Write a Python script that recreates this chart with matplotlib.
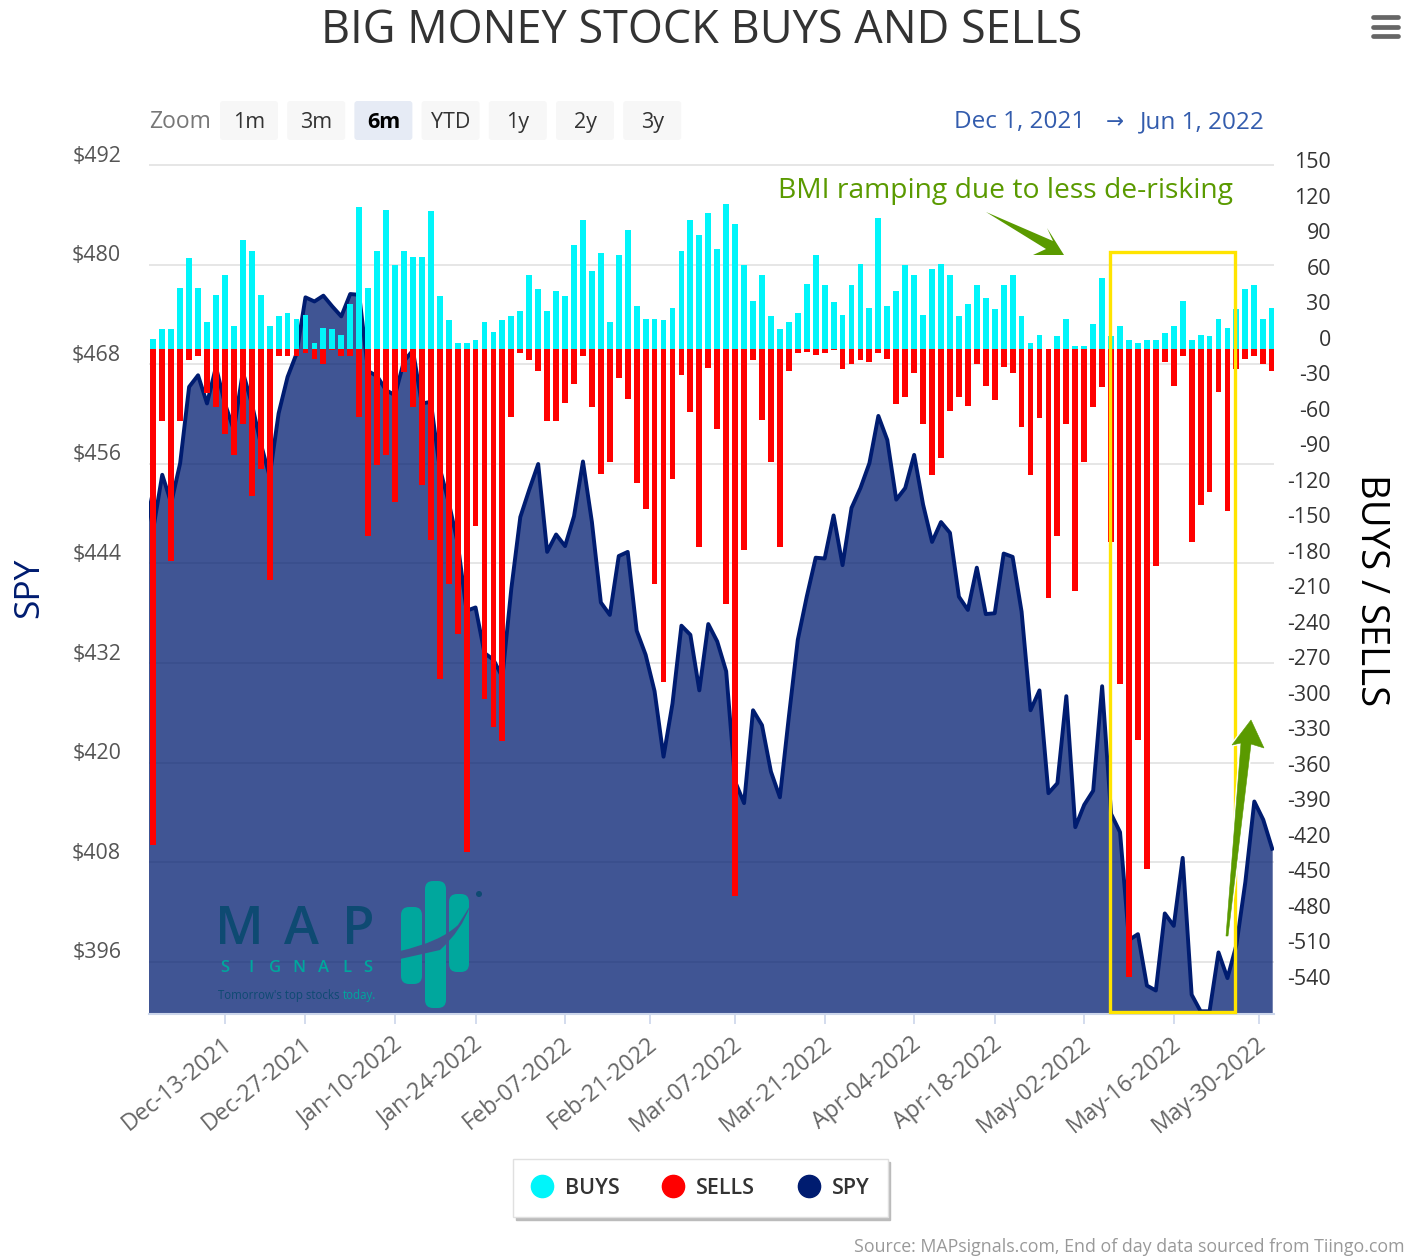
import numpy as np
import pandas as pd
import matplotlib
matplotlib.use("Agg")
import matplotlib.pyplot as plt
from matplotlib.lines import Line2D
from matplotlib.patches import FancyBboxPatch, Rectangle, Polygon, Circle, PathPatch
from matplotlib.path import Path
from matplotlib.transforms import ScaledTranslation

W, H = 1420, 1259

BUYS = [
    9, 17, 17, 52, 77, 52, 23, 46, 63, 20,
    92, 83, 46, 20, 28, 31, 26, 29, 5, 18,
    17, 12, 38, 120, 52, 83, 118, 71, 83, 78,
    78, 117, 45, 25, 5, 5, 8, 23, 15, 25,
    28, 32, 63, 51, 32, 49, 45, 88, 109, 66,
    81, 23, 80, 101, 37, 26, 26, 25, 35, 83,
    109, 97, 115, 85, 123, 106, 71, 41, 63, 28,
    17, 23, 31, 55, 80, 54, 40, 29, 54, 72,
    35, 111, 37, 49, 71, 63, 29, 68, 72, 63,
    28, 38, 54, 43, 34, 54, 63, 28, 5, 12,
    0, 11, 26, 3, 3, 21, 60, 11, 20, 8,
    5, 8, 8, 14, 20, 41, 8, 12, 11, 26,
    18, 34, 51, 54, 26, 35,
]
SELLS = [
    419, 61, 179, 61, 9, 6, 37, 49, 72, 89,
    63, 124, 101, 195, 6, 6, 6, 3, 8, 12,
    1, 6, 6, 57, 158, 98, 89, 129, 19, 49,
    115, 161, 279, 198, 241, 425, 149, 296, 319, 331,
    57, 3, 9, 18, 61, 61, 45, 29, 6, 49,
    105, 95, 24, 42, 113, 135, 198, 281, 110, 22,
    53, 167, 16, 67, 215, 462, 170, 9, 60, 95,
    167, 18, 3, 2, 5, 3, 1, 17, 12, 9,
    11, 3, 8, 46, 40, 20, 63, 106, 92, 52,
    40, 48, 12, 31, 43, 15, 20, 66, 106, 58,
    210, 158, 63, 204, 95, 49, 32, 163, 283, 531,
    330, 439, 183, 11, 31, 6, 163, 132, 121, 36,
    137, 17, 8, 6, 12, 18,
]
SPY_PREV = 453.7
SPY = [
    448.2, 454.7, 451.3, 456.1, 465.3, 466.7, 463.3, 467.7, 463.3, 460.1,
    467.1, 463.3, 458.5, 454.5, 462.1, 466.5, 469.3, 476.1, 475.6, 476.3,
    475.0, 473.8, 476.5, 476.4, 467.2, 466.6, 464.9, 464.3, 468.4, 469.7,
    463.3, 463.5, 455.5, 451.4, 446.5, 438.3, 438.7, 433.2, 432.4, 430.3,
    441.0, 449.6, 452.9, 456.0, 445.4, 447.5, 446.1, 449.7, 456.3, 449.0,
    439.3, 437.8, 444.9, 445.4, 435.9, 433.0, 428.6, 420.7, 427.1, 436.5,
    435.4, 428.7, 436.7, 434.6, 431.0, 417.7, 415.1, 426.3, 424.5, 418.9,
    415.8, 425.5, 434.8, 440.0, 444.7, 444.6, 449.8, 443.8, 450.7, 453.1,
    456.1, 461.8, 458.9, 451.7, 453.1, 457.1, 451.1, 446.6, 449.0, 447.7,
    440.0, 438.4, 443.5, 437.9, 438.0, 445.2, 444.8, 438.2, 426.3, 428.7,
    416.3, 417.5, 428.0, 412.2, 414.9, 416.6, 429.2, 413.8, 411.6, 398.6,
    399.3, 393.1, 392.5, 401.8, 400.3, 408.5, 392.0, 390.0, 390.0, 397.1,
    394.0, 398.0, 405.6, 415.3, 413.1, 409.6,
]
HOLIDAYS = ["2021-12-24", "2022-01-17", "2022-02-21", "2022-04-15", "2022-05-30"]
TICK_DATES = pd.date_range("2021-12-13", "2022-05-30", freq="14D")
SPY_TICKS = [492, 480, 468, 456, 444, 432, 420, 408, 396]
FLOW_TICKS = list(range(150, -541, -30))
ZOOM_BUTTONS = ["1m", "3m", "6m", "YTD", "1y", "2y", "3y"]

FONT = "Open Sans"
NAVY = "#001c70"
CYAN = "#00f5fa"
GREEN = "#5a9a00"
TEAL = "#00a79d"
DARK_TEAL = "#0e4a72"

plt.rcParams["font.family"] = [FONT, "DejaVu Sans"]

days = pd.bdate_range("2021-12-01", "2022-06-01")
days = days[~days.isin(pd.to_datetime(HOLIDAYS))]
x = np.arange(len(days))

# ticks on a closed day sit between the two trading days around it
tick_pos = []
for d in TICK_DATES:
    i = days.searchsorted(d)
    tick_pos.append(i if days[i] == d else i - 0.5)

fig = plt.figure(figsize=(W / 100, H / 100), dpi=100, facecolor="white")
ax = fig.add_axes([149 / W, 1 - 1014 / H, (1274 - 149) / W, (1014 - 163) / H])
ax2 = ax.twinx()

# SPY area on the left scale
spy_x = np.r_[-1, x]
spy_y = np.r_[SPY_PREV, SPY]
ax.set_ylim(389.67, 492.3)
ax.set_xlim(-0.48, 125.2)
ax.fill_between(spy_x, spy_y, 389.67, color=NAVY, alpha=0.75, lw=0)
ax.plot(spy_x, spy_y, color=NAVY, lw=2.8, solid_joinstyle="round")
ax.set_yticks(SPY_TICKS)
ax.set_yticklabels(["$%d" % v for v in SPY_TICKS], fontsize=15.4, color="#555555")
ax.grid(axis="y", color="#e6e6e6", lw=1.4)
ax.set_axisbelow(True)
ax.tick_params(axis="y", length=0, pad=20)
ax.set_xticks(tick_pos)
ax.set_xticklabels(
    [d.strftime("%b-%d-%Y") for d in TICK_DATES],
    rotation=39, ha="right", rotation_mode="anchor", fontsize=16.7, color="#666666",
)
ax.tick_params(axis="x", length=7, width=1.2, color="#ccd6eb", pad=6)
for s in ["top", "left", "right"]:
    ax.spines[s].set_visible(False)
    ax2.spines[s].set_visible(False)
ax.spines["bottom"].set_color("#ccd6eb")
ax.spines["bottom"].set_linewidth(1.5)
ax2.spines["bottom"].set_visible(False)
ax.set_ylabel("SPY", fontsize=25.5, color=NAVY, va="center", ha="center")
ax.yaxis.set_label_coords((29 - 149) / 1125, (1014 - 588) / 851)

# buys and sells on the right scale
ax2.set_ylim(-561.9, 157.5)
ax2.bar(x, BUYS, width=0.65, color=CYAN, lw=0)
ax2.bar(x, -np.array(SELLS), width=0.65, color="#ff0000", lw=0)
ax2.set_yticks(FLOW_TICKS)
ax2.set_yticklabels([str(v) for v in FLOW_TICKS], fontsize=15.4, color="#333333", ha="right")
ax2.tick_params(axis="y", length=0, pad=41)
ax2.set_ylabel("BUYS / SELLS", fontsize=27.5, color="black", rotation=270, va="center", ha="center")
ax2.yaxis.set_label_coords((1371 - 149) / 1125, (1014 - 590) / 851)

# highcharts prints the y labels just above their grid line
up = ScaledTranslation(0, 11.5 / 100, fig.dpi_scale_trans)
for lab in ax.get_yticklabels() + ax2.get_yticklabels():
    lab.set_transform(lab.get_transform() + up)
left = ScaledTranslation(-3 / 100, 0, fig.dpi_scale_trans)
for lab in ax.get_xticklabels():
    lab.set_transform(lab.get_transform() + left)

# everything else is placed in image pixels
ov = fig.add_axes([0, 0, 1, 1], zorder=5)
ov.set_xlim(0, W)
ov.set_ylim(H, 0)
ov.axis("off")

ov.text(702, 31, "BIG MONEY STOCK BUYS AND SELLS", fontsize=32.4, color="#333333", ha="center", va="center")
for y in [17, 26.5, 36]:
    ov.add_line(Line2D([1373, 1398], [y, y], color="#666666", lw=3.4, solid_capstyle="round"))

# zoom buttons
ov.text(149, 122, "Zoom", fontsize=16.5, color="#777777", va="center")
for i, name in enumerate(ZOOM_BUTTONS):
    bx = 220 + i * 67.2
    selected = name == "6m"
    ov.add_patch(FancyBboxPatch(
        (bx + 3, 104), 52, 33, boxstyle="round,pad=3,rounding_size=3",
        fc="#e6ebf5" if selected else "#f7f7f7", ec="none",
    ))
    ov.text(bx + 29, 122, name, fontsize=15.5, color="black" if selected else "#333333",
            fontweight="bold" if selected else "normal", ha="center", va="center")

ov.text(1020, 122, "Dec 1, 2021", fontsize=17.5, color="#335cad", ha="center", va="center")
ov.text(1115, 122, "→", fontsize=15.5, color="#335cad", ha="center", va="center", family="DejaVu Sans")
ov.text(1202, 122, "Jun 1, 2022", fontsize=17.5, color="#335cad", ha="center", va="center")

# annotation
ov.text(1006, 191, "BMI ramping due to less de-risking", fontsize=20.3, color=GREEN, ha="center", va="center")
ov.add_patch(Rectangle((1110, 252), 124.5, 759.5, fill=False, ec="#ffe400", lw=2.4))
ov.add_patch(Polygon(
    [(986, 212), (1053, 241), (1047, 228), (1064, 255), (1033, 255), (1046, 249)],
    closed=True, fc=GREEN, ec="none",
))
arrow_up = [(1226, 936), (1241, 743), (1232, 745), (1251, 720), (1264, 748), (1251, 744), (1228, 936)]
ov.add_patch(Polygon(arrow_up, closed=True, fc="white", ec="white", lw=2.4))
ov.add_patch(Polygon(arrow_up, closed=True, fc=GREEN, ec=GREEN, lw=0.4))

# logo
ov.add_patch(FancyBboxPatch((404, 910), 15, 71, boxstyle="round,pad=3,rounding_size=8", fc=TEAL, ec="none"))
ov.add_patch(FancyBboxPatch((428, 884), 15, 121, boxstyle="round,pad=3,rounding_size=8", fc=TEAL, ec="none"))
ov.add_patch(FancyBboxPatch((452, 897), 14, 72, boxstyle="round,pad=3,rounding_size=8", fc=TEAL, ec="none"))
ov.add_patch(PathPatch(
    Path([(400, 951), (440, 942), (458, 925), (470, 906), (462, 930), (440, 950), (400, 959), (400, 951)],
         [Path.MOVETO, Path.CURVE3, Path.CURVE3, Path.LINETO, Path.CURVE3, Path.CURVE3, Path.LINETO, Path.CLOSEPOLY]),
    fc="#40558f", ec="none",
))
ov.add_patch(Circle((479, 894), 3, fc=DARK_TEAL, ec="none"))
for letter, cx in zip("MAP", [239, 301, 358]):
    ov.text(cx, 930, letter, fontsize=38, color=DARK_TEAL, ha="center", va="center", fontweight=600)
for letter, cx in zip("SIGNALS", [225, 251, 275, 299, 324, 347, 368]):
    ov.text(cx, 968, letter, fontsize=12, color=TEAL, ha="center", va="center", fontweight=600)
ov.text(343, 995, "Tomorrow's top stocks ", fontsize=8.3, color=DARK_TEAL, ha="right", va="center")
ov.text(343, 995, "today.", fontsize=8.3, color=TEAL, ha="left", va="center")

ov.text(1405, 1247, "Source: MAPsignals.com, End of day data sourced from Tiingo.com",
        fontsize=12.8, color="#999999", ha="right", va="center")

handles = [
    Line2D([], [], marker="o", ls="", ms=16, color=CYAN, label="BUYS"),
    Line2D([], [], marker="o", ls="", ms=16, color="#ff0000", label="SELLS"),
    Line2D([], [], marker="o", ls="", ms=16, color=NAVY, label="SPY"),
]
leg = ov.legend(
    handles=handles, ncol=3, loc="center", bbox_to_anchor=(700.5, 1188),
    bbox_transform=ov.transData, frameon=True, fancybox=False, edgecolor="#e0e0e0",
    shadow={"color": "#bbbbbb", "alpha": 1, "ox": 2, "oy": -2},
    framealpha=1, prop={"size": 15.5, "weight": 600}, labelcolor="#333333",
    handlelength=1.0, columnspacing=1.97, handletextpad=0.57, borderpad=0.85,
)

fig.savefig("out.png", dpi=100)
